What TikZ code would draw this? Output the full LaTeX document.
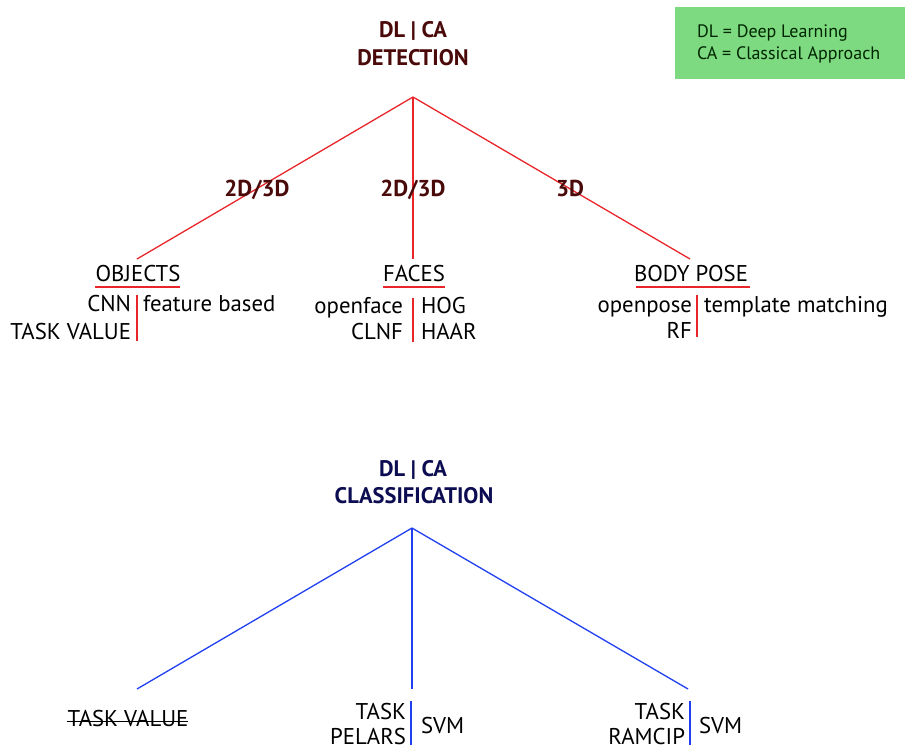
\documentclass[tikz,border=0pt]{standalone}
\usepackage{fontspec}
\setmainfont{PT Sans}
\definecolor{treered}{HTML}{E8262A}
\definecolor{treeblue}{HTML}{2040F0}
\definecolor{maroon}{HTML}{4A0A0A}
\definecolor{navy}{HTML}{0C0C52}
\definecolor{legendgreen}{HTML}{7DDA80}
\begin{document}
\begin{tikzpicture}[x=1pt,y=-1pt,
  every node/.style={inner sep=0pt,outer sep=0pt},
  body/.style={font=\fontsize{22.8}{26}\selectfont,text=black},
  headtxt/.style={font=\fontsize{22.5}{26}\selectfont\bfseries},
  edgetxt/.style={font=\fontsize{23}{26}\selectfont\bfseries,text=maroon},
  legendtxt/.style={font=\fontsize{18}{21}\selectfont,text=black!85!green,anchor=base west},
  redline/.style={draw=treered,line width=1.3pt},
  blueline/.style={draw=treeblue,line width=1.3pt}]
\useasboundingbox (0,0) rectangle (905,751);

% legend
\node[fill=legendgreen,minimum width=230pt,minimum height=72pt,anchor=north west] (legend) at (675,7) {};
\node[legendtxt] (lg1) at (697,38) {DL = Deep Learning};
\node[legendtxt] (lg2) at (697,60) {CA = Classical Approach};

% ---------- detection tree ----------
\node[headtxt,text=maroon,anchor=base] (dh1) at (413,38) {DL | CA};
\node[headtxt,text=maroon,anchor=base] (dh2) at (413,66) {DETECTION};
\coordinate (dtop) at (413,97);
\coordinate (dobj) at (137,259);
\coordinate (dface) at (413,259);
\coordinate (dpose) at (690,259);
\draw[redline] (dtop) -- (dobj);
\draw[redline] (dtop) -- (dface);
\draw[redline] (dtop) -- (dpose);
\node[edgetxt,anchor=base] (e1) at (257,197) {2D/3D};
\node[edgetxt,anchor=base] (e2) at (413,197) {2D/3D};
\node[edgetxt,anchor=base] (e3) at (570,197) {3D};

% objects
\node[body,anchor=base] (obj) at (138,282) {OBJECTS};
\draw[redline] ([xshift=-1pt,yshift=-5pt]obj.base west) -- ([yshift=-5pt]obj.base east);
\node[body,anchor=base east] (cnn) at (131,311.5) {CNN};
\node[body,anchor=base east] (tv1) at (131,339.5) {TASK VALUE};
\node[body,anchor=base west] (fb) at (143,311.5) {feature based};
\coordinate (os1) at (137,295);
\coordinate (os2) at (137,341);
\draw[redline] (os1) -- (os2);

% faces
\node[body,anchor=base] (faces) at (414,282) {FACES};
\draw[redline] ([yshift=-5pt]faces.base west) -- ([yshift=-5pt]faces.base east);
\node[body,anchor=base east] (of) at (403,314) {openface};
\node[body,anchor=base east] (clnf) at (403,339.5) {CLNF};
\node[body,anchor=base west] (hog) at (421,314) {HOG};
\node[body,anchor=base west] (haar) at (421,339.5) {HAAR};
\coordinate (fs1) at (413,298);
\coordinate (fs2) at (413,342);
\draw[redline] (fs1) -- (fs2);

% body pose
\node[body,anchor=base] (pose) at (691,282) {BODY POSE};
\draw[redline] ([xshift=2pt,yshift=-5pt]pose.base west) -- ([xshift=2pt,yshift=-5pt]pose.base east);
\node[body,anchor=base east] (op) at (692,312.5) {openpose};
\node[body,anchor=base east] (rf) at (692,338.5) {RF};
\node[body,anchor=base west] (tm) at (704,312.5) {template matching};
\coordinate (ps1) at (697,295);
\coordinate (ps2) at (697,337);
\draw[redline] (ps1) -- (ps2);

% ---------- classification tree ----------
\node[headtxt,text=navy,anchor=base] (ch1) at (413,476.5) {DL | CA};
\node[headtxt,text=navy,anchor=base] (ch2) at (414,503.5) {CLASSIFICATION};
\coordinate (ctop) at (412,528);
\coordinate (cl) at (137,689);
\coordinate (cm) at (412,689);
\coordinate (cr) at (688,689);
\draw[blueline] (ctop) -- (cl);
\draw[blueline] (ctop) -- (cm);
\draw[blueline] (ctop) -- (cr);

\node[body,anchor=base] (tv2) at (128,726) {TASK VALUE};
\draw[black,line width=0.8pt] ([xshift=-1pt,yshift=4.5pt]tv2.base west) -- ([yshift=4.5pt]tv2.base east);

\node[body,anchor=base east] (t1) at (406,719) {TASK};
\node[body,anchor=base east] (pel) at (406,744.5) {PELARS};
\node[body,anchor=base west] (svm1) at (421,733) {SVM};
\coordinate (ms1) at (411,701);
\coordinate (ms2) at (411,745);
\draw[blueline] (ms1) -- (ms2);

\node[body,anchor=base east] (t2) at (685,719) {TASK};
\node[body,anchor=base east] (ram) at (685,744.5) {RAMCIP};
\node[body,anchor=base west] (svm2) at (699,733) {SVM};
\coordinate (rs1) at (690,701);
\coordinate (rs2) at (690,745);
\draw[blueline] (rs1) -- (rs2);
\end{tikzpicture}
\end{document}
